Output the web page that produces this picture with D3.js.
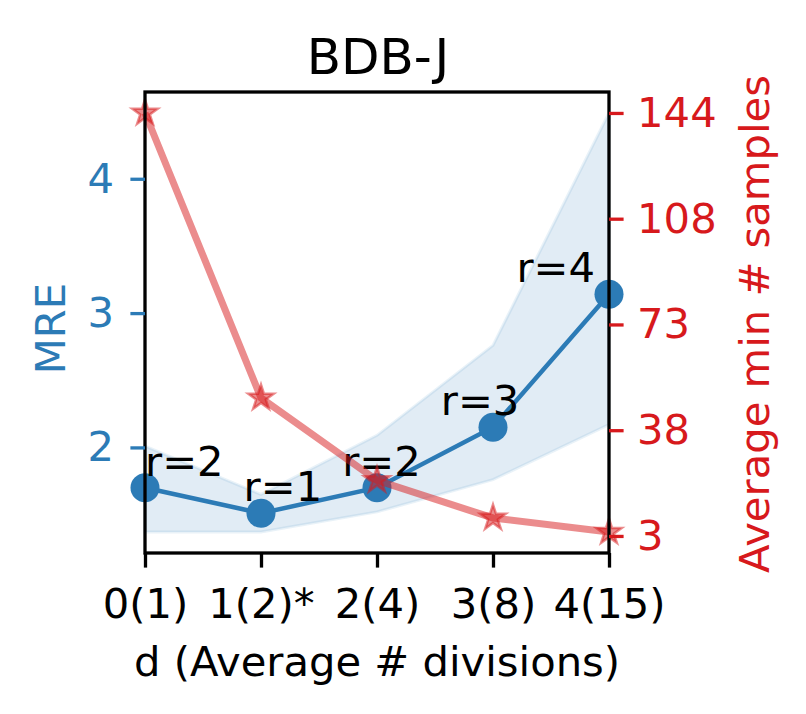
<!DOCTYPE html>
<html lang="en">
<head>
  <meta charset="UTF-8">
  <title>BDB-J</title>
  <style>
    * {
      box-sizing: border-box;
      margin: 0;
    }
    body {
      background: #fff;
    }
    svg {
      display: block;
      font-family: "DejaVu Sans", sans-serif;
    }
    .domain {
      display: none;
    }
  </style>
</head>
<body>
  <svg></svg>
  <script src="https://d3js.org/d3.v7.min.js"></script>
  <script>
    const divisions = [0, 1, 2, 3, 4];
    const tickLabels = ['0(1)', '1(2)*', '2(4)', '3(8)', '4(15)'];
    const mre = [1.70, 1.51, 1.70, 2.15, 3.14];
    const mreUpper = [2.01, 1.65, 2.09, 2.76, 4.49];
    const mreLower = [1.37, 1.37, 1.52, 1.76, 2.17];
    const rLabels = ['r=2', 'r=1', 'r=2', 'r=3', 'r=4'];
    const minSamples = [144, 49, 21.5, 9, 4.3];
    const mreTicks = [2, 3, 4];
    const sampleTicks = [3, 38.25, 73.5, 108.75, 144];

    const blue = '#2c7bb6';
    const red = '#d7191c';
    const font = '"DejaVu Sans", sans-serif';
    const fs = 41.7;

    const width = 806;
    const height = 714;
    const margin = {top: 92, right: 197, bottom: 161, left: 145};
    const innerW = width - margin.left - margin.right;
    const innerH = height - margin.top - margin.bottom;

    const svg = d3.select('svg')
      .attr('width', width)
      .attr('height', height);

    const g = svg.append('g')
      .attr('transform', 'translate(' + margin.left + ',' + margin.top + ')');

    // matplotlib style 5% padding
    function padded(lo, hi) {
      const p = (hi - lo) * 0.05;
      return [lo - p, hi + p];
    }

    const x = d3.scaleLinear()
      .domain([0, 4])
      .range([0, innerW]);

    const y = d3.scaleLinear()
      .domain(padded(d3.min(mreLower), d3.max(mreUpper)))
      .range([innerH, 0]);

    const y2 = d3.scaleLinear()
      .domain(padded(d3.min(minSamples), d3.max(minSamples)))
      .range([innerH, 0]);

    // band
    const band = d3.area()
      .x((d, i) => x(divisions[i]))
      .y0((d, i) => y(mreLower[i]))
      .y1((d, i) => y(mreUpper[i]));

    g.append('path')
      .datum(mre)
      .attr('d', band)
      .attr('fill', blue)
      .attr('fill-opacity', 0.14)
      .attr('stroke', blue)
      .attr('stroke-opacity', 0.1)
      .attr('stroke-width', 3);

    // MRE line
    const line = d3.line()
      .x((d, i) => x(divisions[i]))
      .y(d => y(d));

    g.append('path')
      .datum(mre)
      .attr('d', line)
      .attr('fill', 'none')
      .attr('stroke', blue)
      .attr('stroke-width', 4.5);

    g.selectAll('.dot')
      .data(mre)
      .enter().append('circle')
      .attr('class', 'dot')
      .attr('cx', (d, i) => x(divisions[i]))
      .attr('cy', d => y(d))
      .attr('r', 14.5)
      .attr('fill', blue);

    // r labels, shifted left a bit more each step, kept inside the frame
    const rlab = g.selectAll('.rlab')
      .data(mre)
      .enter().append('text')
      .attr('class', 'rlab')
      .attr('y', d => y(d) - 12)
      .attr('font-size', fs)
      .attr('fill', '#000')
      .text((d, i) => rLabels[i]);

    rlab.attr('x', function(d, i) {
      const w = this.getComputedTextLength();
      return Math.min(x(divisions[i] * 0.85), innerW - 14 - w);
    });

    // samples line (twin axis)
    const line2 = d3.line()
      .x((d, i) => x(divisions[i]))
      .y(d => y2(d));

    g.append('path')
      .datum(minSamples)
      .attr('d', line2)
      .attr('fill', 'none')
      .attr('stroke', red)
      .attr('stroke-opacity', 0.5)
      .attr('stroke-width', 7);

    const star = d3.symbol().type(d3.symbolStar).size(200);
    g.selectAll('.star')
      .data(minSamples)
      .enter().append('path')
      .attr('class', 'star')
      .attr('transform', (d, i) => 'translate(' + x(divisions[i]) + ',' + y2(d) + ')')
      .attr('d', star)
      .attr('fill', red)
      .attr('fill-opacity', 0.5)
      .attr('stroke', red)
      .attr('stroke-opacity', 0.5)
      .attr('stroke-width', 2.5);

    // frame
    g.append('rect')
      .attr('width', innerW)
      .attr('height', innerH)
      .attr('fill', 'none')
      .attr('stroke', '#000')
      .attr('stroke-width', 3.3);

    // axes
    const tickLen = 14.6;

    function styleAxis(sel, color) {
      sel.attr('font-size', fs).attr('font-family', font);
      sel.selectAll('.tick line').attr('stroke', color).attr('stroke-width', 3.3);
      sel.selectAll('.tick text').attr('fill', color);
    }

    const xAxis = g.append('g')
      .attr('transform', 'translate(0,' + innerH + ')')
      .call(d3.axisBottom(x)
        .tickValues(divisions)
        .tickFormat((d, i) => tickLabels[i])
        .tickSize(tickLen)
        .tickPadding(20.5));
    styleAxis(xAxis, '#000');

    const yAxis = g.append('g')
      .call(d3.axisLeft(y)
        .tickValues(mreTicks)
        .tickFormat(d3.format('d'))
        .tickSize(tickLen)
        .tickPadding(16.4));
    styleAxis(yAxis, blue);

    const y2Axis = g.append('g')
      .attr('transform', 'translate(' + innerW + ',0)')
      .call(d3.axisRight(y2)
        .tickValues(sampleTicks)
        .tickFormat(d => Math.floor(d))
        .tickSize(tickLen)
        .tickPadding(13.5));
    styleAxis(y2Axis, red);

    // labels
    svg.append('text')
      .attr('x', margin.left + innerW / 2 + 1)
      .attr('y', 74)
      .attr('text-anchor', 'middle')
      .attr('font-size', 50)
      .text('BDB-J');

    svg.append('text')
      .attr('x', margin.left + innerW / 2)
      .attr('y', 675.7)
      .attr('text-anchor', 'middle')
      .attr('font-size', fs)
      .text('d (Average # divisions)');

    svg.append('text')
      .attr('transform', 'translate(65,' + (margin.top + innerH / 2 + 6) + ') rotate(-90)')
      .attr('text-anchor', 'middle')
      .attr('font-size', fs)
      .attr('fill', blue)
      .text('MRE');

    svg.append('text')
      .attr('transform', 'translate(769,' + (margin.top + innerH / 2 + 1.5) + ') rotate(-90)')
      .attr('text-anchor', 'middle')
      .attr('font-size', fs)
      .attr('fill', red)
      .text('Average min # samples');
  </script>
</body>
</html>
